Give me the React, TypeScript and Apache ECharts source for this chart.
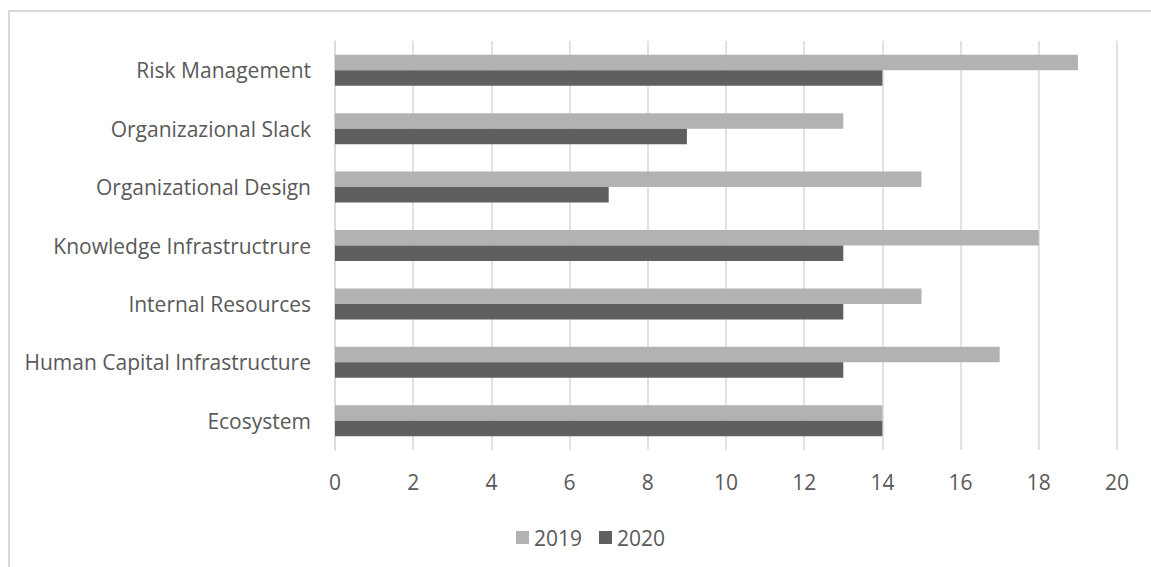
import React, { useEffect, useRef } from "react";
import * as echarts from "echarts";

const categories = [
  "Ecosystem",
  "Human Capital Infrastructure",
  "Internal Resources",
  "Knowledge Infrastructrure",
  "Organizational Design",
  "Organizazional Slack",
  "Risk Management",
];
const values2019 = [14, 17, 15, 18, 15, 13, 19];
const values2020 = [14, 13, 13, 13, 7, 9, 14];
const xTicks = { min: 0, max: 20, interval: 2 };

export default function App() {
  const ref = useRef<HTMLDivElement>(null);
  useEffect(() => {
    document.body.style.margin = "0";
    const chart = echarts.init(ref.current!, null, { renderer: "svg" });
    const font = "'Open Sans', 'Noto Sans', sans-serif";
    chart.setOption({
      animation: false,
      backgroundColor: "#ffffff",
      textStyle: { fontFamily: font },
      graphic: [
        {
          type: "rect",
          shape: { x: 9, y: 11, width: 1200, height: 600 },
          style: { fill: "none", stroke: "#d9d9d9", lineWidth: 2 },
          silent: true,
        },
      ],
      grid: { left: 335, right: 34, top: 41, bottom: 117, containLabel: false },
      xAxis: {
        type: "value",
        min: xTicks.min,
        max: xTicks.max,
        interval: xTicks.interval,
        axisLine: { show: false },
        axisTick: { show: false },
        axisLabel: { color: "#595959", fontSize: 21, margin: 21, fontFamily: font },
        splitLine: { show: true, lineStyle: { color: "#d9d9d9", width: 1.5 } },
      },
      yAxis: {
        type: "category",
        data: categories,
        axisLine: { show: true, lineStyle: { color: "#d9d9d9", width: 1.5 } },
        axisTick: { show: false },
        axisLabel: { color: "#595959", fontSize: 21, margin: 24, fontFamily: font },
      },
      legend: {
        data: ["2019", "2020"],
        left: 511,
        top: 522,
        itemWidth: 13,
        itemHeight: 13,
        itemGap: 17,
        icon: "rect",
        textStyle: { color: "#595959", fontSize: 21, fontFamily: font },
      },
      series: [
        {
          name: "2019",
          type: "bar",
          data: values2019,
          itemStyle: { color: "#b2b2b2" },
          barGap: "0%",
          barCategoryGap: "47%",
        },
        {
          name: "2020",
          type: "bar",
          data: values2020,
          itemStyle: { color: "#5f5f5f" },
          barGap: "0%",
          barCategoryGap: "47%",
        },
      ],
    });
    return () => chart.dispose();
  }, []);
  return <div ref={ref} style={{ width: 1151, height: 567 }} />;
}
